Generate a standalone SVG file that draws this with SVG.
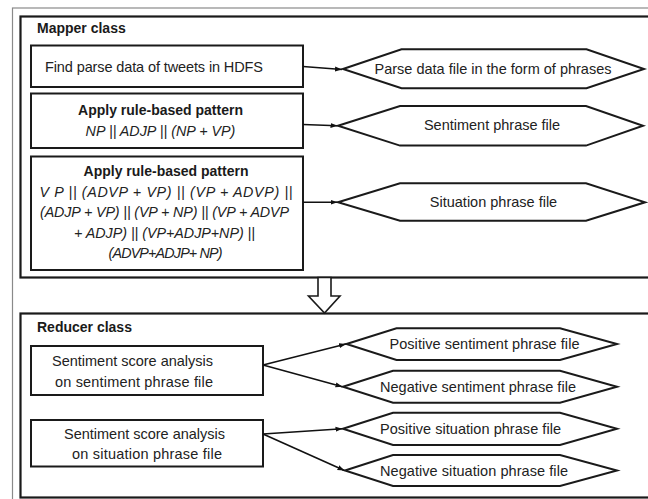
<svg xmlns="http://www.w3.org/2000/svg" width="648" height="499" viewBox="0 0 648 499">
<defs>
<marker id="ah" markerUnits="userSpaceOnUse" markerWidth="8" markerHeight="6" refX="7" refY="3" orient="auto">
<path d="M0,0.5 L7,3 L0,5.5 z" fill="#111"/>
</marker>
<style>
.frame{fill:none;stroke:#8a8a8a;stroke-width:1.2}
.cls{fill:none;stroke:#1a1a1a;stroke-width:2.2}
.box{fill:#fff;stroke:#1a1a1a;stroke-width:2}
.hex{fill:#fff;stroke:#1a1a1a;stroke-width:2}
.t{font-family:"Liberation Sans",Arial,sans-serif;font-size:14.5px;fill:#222}
.b{font-family:"Liberation Sans",Arial,sans-serif;font-size:14px;font-weight:bold;fill:#1a1a1a}
.i{font-family:"Liberation Sans",Arial,sans-serif;font-size:14.3px;font-style:italic;fill:#222}
.c{text-anchor:middle}
.conn line{stroke:#111;stroke-width:1.6;marker-end:url(#ah)}
</style>
</defs>
<rect class="frame" x="12.5" y="8" width="700" height="600"/>
<g id="mapper">
<rect class="cls" x="20.5" y="16.5" width="700" height="261"/>
<text class="b" x="37" y="33">Mapper class</text>
</g>
<g id="reducer">
<rect class="cls" x="20.5" y="313.5" width="700" height="184"/>
<text class="b" x="37" y="332">Reducer class</text>
</g>
<g id="find">
<rect class="box" x="31" y="45.5" width="272" height="41.5"/>
<text class="t" x="45" y="71.5" textLength="218">Find parse data of tweets in HDFS</text>
</g>
<g id="rule1">
<rect class="box" x="31" y="93.5" width="272" height="54.5"/>
<text class="b c" x="160.5" y="115">Apply rule-based pattern</text>
<text class="i c" x="160.5" y="136">NP || ADJP || (NP + VP)</text>
</g>
<g id="rule2">
<rect class="box" x="31" y="156.5" width="272" height="113.5"/>
<text class="b c" x="166" y="176">Apply rule-based pattern</text>
<text class="i c" x="166" y="196.5" textLength="253">V P || (ADVP + VP) || (VP + ADVP) ||</text>
<text class="i c" x="164.5" y="217" textLength="249">(ADJP + VP) || (VP + NP) || (VP + ADVP</text>
<text class="i c" x="164.5" y="237.5" textLength="181">+ ADJP) || (VP+ADJP+NP) ||</text>
<text class="i c" x="165.5" y="258" textLength="114">(ADVP+ADJP+ NP)</text>
</g>
<g id="parsefile">
<polygon class="hex" points="343,69 401.5,49.3 586.5,49.3 644,69 586.5,88.3 401.5,88.3"/>
<text class="t c" x="493" y="73.5" textLength="237">Parse data file in the form of phrases</text>
</g>
<g id="sentfile">
<polygon class="hex" points="338,125.8 400,106 586,106 643,125.8 586,145.6 400,145.6"/>
<text class="t c" x="492" y="129.8">Sentiment phrase file</text>
</g>
<g id="sitfile">
<polygon class="hex" points="338,202.3 400,183.3 586,183.3 645,202.3 586,220.8 400,220.8"/>
<text class="t c" x="493.5" y="206.5">Situation phrase file</text>
</g>
<g id="transfer">
<polygon points="318,277.5 331,277.5 331,296 340,296 324.5,313 308.5,296 318,296" fill="#fff" stroke="#1a1a1a" stroke-width="1.6" stroke-linejoin="miter"/>
</g>
<g id="score1">
<rect class="box" x="31" y="346" width="232" height="49"/>
<text class="t" x="52" y="366" textLength="161">Sentiment score analysis</text>
<text class="t" x="55" y="387" textLength="158">on sentiment phrase file</text>
</g>
<g id="score2">
<rect class="box" x="31" y="420" width="232" height="46.5"/>
<text class="t" x="64" y="438.5" textLength="161">Sentiment score analysis</text>
<text class="t" x="72" y="459" textLength="150">on situation phrase file</text>
</g>
<g id="possent">
<polygon class="hex" points="346.5,344 396.5,328.3 560,328.3 617,344 560,360 396.5,360"/>
<text class="t" x="389.5" y="349" textLength="190">Positive sentiment phrase file</text>
</g>
<g id="negsent">
<polygon class="hex" points="343,386.7 393,370.7 560,370.7 617,386.7 560,402.7 393,402.7"/>
<text class="t" x="380" y="391.5" textLength="196">Negative sentiment phrase file</text>
</g>
<g id="possit">
<polygon class="hex" points="343,428.8 393,412.7 560,412.7 617,428.8 560,445 393,445"/>
<text class="t" x="380" y="433.5" textLength="181">Positive situation phrase file</text>
</g>
<g id="negsit">
<polygon class="hex" points="345,470.5 393,455 560,455 617,470.5 560,486 393,486"/>
<text class="t" x="380" y="475.5" textLength="188">Negative situation phrase file</text>
</g>
<g id="connectors" class="conn">
<line x1="303" y1="66.5" x2="342" y2="69.5"/>
<line x1="303" y1="124.5" x2="337.5" y2="125.8"/>
<line x1="303" y1="202.3" x2="337.5" y2="202.3"/>
<line x1="263" y1="365" x2="346" y2="344"/>
<line x1="263" y1="365" x2="342.5" y2="386.7"/>
<line x1="263" y1="434" x2="342.5" y2="428.8"/>
<line x1="263" y1="434" x2="344.5" y2="470.5"/>
</g>
</svg>
